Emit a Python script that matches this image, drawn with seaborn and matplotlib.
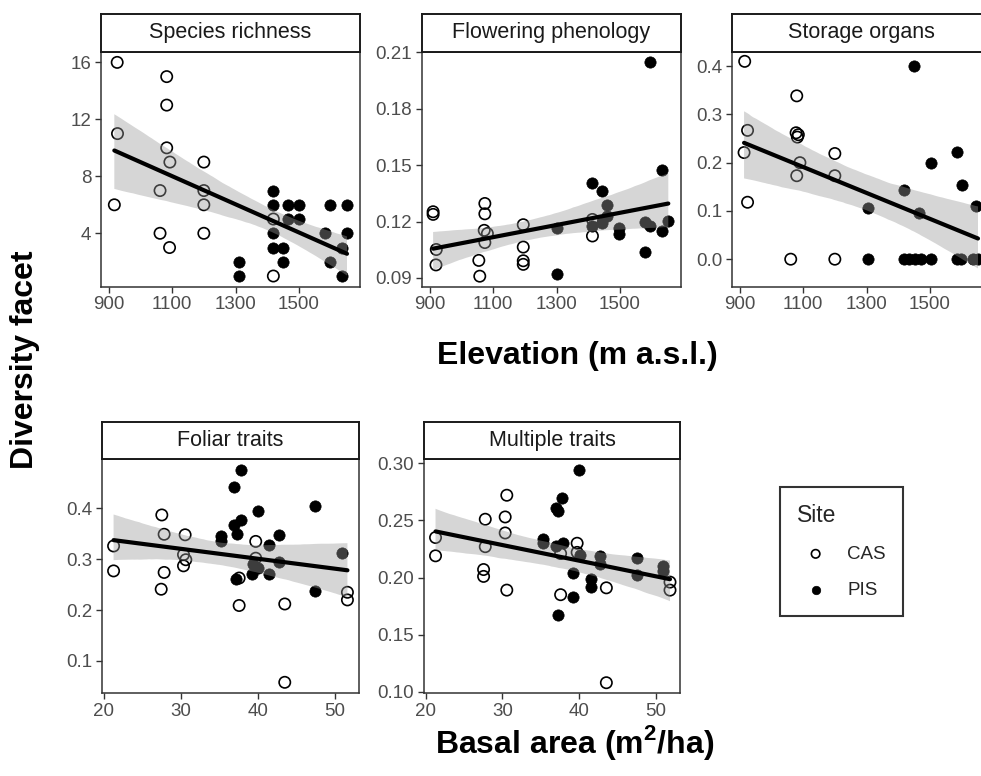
import matplotlib
matplotlib.use('Agg')
import matplotlib.pyplot as plt
import seaborn as sns
import pandas as pd

# values
rich_cas_elev = [927, 1083, 1083, 928, 1083, 1093, 1200, 1062, 1200, 918, 1200, 1062, 1200, 1092, 1419, 1419]
rich_cas_val = [16, 15, 13, 11, 10, 9, 9, 7, 7, 6, 6, 4, 4, 3, 1, 5]
rich_pis_elev = [1310, 1310, 1417, 1417, 1464, 1500, 1597, 1651, 1464, 1500, 1417, 1417, 1448, 1448, 1581, 1651, 1636, 1597, 1636]
rich_pis_val = [2, 1, 7, 6, 6, 6, 6, 6, 5, 5, 4, 3, 3, 2, 4, 4, 3, 2, 1]

flow_cas_elev = [911, 911, 921, 920, 1074, 1074, 1072, 1082, 1074, 1055, 1058, 1195, 1195, 1195, 1195, 1413, 1413]
flow_cas_val = [0.1252, 0.1238, 0.1051, 0.0969, 0.1296, 0.1241, 0.1153, 0.1136, 0.1088, 0.0993, 0.0909, 0.1183, 0.1064, 0.0991, 0.0972, 0.1123, 0.1211]
flow_pis_elev = [1593, 1633, 1413, 1444, 1460, 1460, 1444, 1413, 1300, 1300, 1497, 1497, 1579, 1593, 1579, 1633, 1652]
flow_pis_val = [0.2047, 0.1472, 0.1405, 0.1361, 0.1287, 0.1229, 0.1193, 0.1176, 0.1167, 0.0919, 0.1168, 0.1132, 0.1196, 0.1176, 0.1039, 0.115, 0.1203]

stor_cas_elev = [916, 925, 914, 925, 1080, 1078, 1085, 1082, 1090, 1080, 1200, 1200, 1061, 1200]
stor_cas_val = [0.41, 0.267, 0.221, 0.118, 0.3385, 0.262, 0.258, 0.253, 0.2, 0.173, 0.219, 0.173, 0.0, 0.0]
stor_pis_elev = [1448, 1585, 1503, 1600, 1417, 1645, 1306, 1466, 1306, 1417, 1435, 1451, 1470, 1503, 1585, 1598, 1635, 1651]
stor_pis_val = [0.40, 0.222, 0.20, 0.154, 0.143, 0.111, 0.106, 0.096, 0, 0, 0, 0, 0, 0, 0, 0, 0, 0]

fol_cas_ba = [21.3, 21.3, 27.55, 27.85, 27.85, 27.47, 30.57, 30.36, 30.66, 30.36, 39.72, 39.72, 37.57, 37.57, 43.48, 43.48, 51.6, 51.6]
fol_cas_val = [0.326, 0.277, 0.387, 0.349, 0.274, 0.241, 0.348, 0.309, 0.299, 0.287, 0.335, 0.302, 0.263, 0.209, 0.212, 0.058, 0.235, 0.22]
fol_pis_ba = [37.83, 36.96, 47.45, 39.98, 37.83, 36.96, 37.26, 35.23, 35.23, 42.7, 41.5, 39.4, 40.07, 42.7, 39.2, 41.5, 37.1, 47.45, 50.95]
fol_pis_val = [0.476, 0.442, 0.405, 0.394, 0.377, 0.367, 0.349, 0.345, 0.335, 0.347, 0.327, 0.29, 0.283, 0.294, 0.271, 0.271, 0.261, 0.237, 0.313]

mult_cas_ba = [21.3, 21.3, 27.77, 27.77, 27.55, 27.55, 30.57, 30.36, 30.36, 30.57, 37.57, 37.57, 39.72, 39.72, 43.52, 43.52, 51.8, 51.8]
mult_cas_val = [0.235, 0.219, 0.251, 0.227, 0.207, 0.201, 0.272, 0.253, 0.239, 0.189, 0.185, 0.221, 0.230, 0.222, 0.191, 0.108, 0.196, 0.189]
mult_pis_ba = [39.98, 37.78, 36.92, 37.26, 35.23, 35.23, 36.96, 37.83, 40.07, 42.75, 42.75, 39.2, 41.5, 41.5, 39.2, 37.26, 47.5, 47.5, 50.95, 50.95]
mult_pis_val = [0.294, 0.270, 0.261, 0.258, 0.234, 0.230, 0.228, 0.230, 0.220, 0.219, 0.212, 0.204, 0.199, 0.192, 0.183, 0.167, 0.217, 0.202, 0.210, 0.206]

facets = ['Species richness', 'Flowering phenology', 'Storage organs', 'Foliar traits', 'Multiple traits']
elev_ticks = [900, 1100, 1300, 1500]
ba_ticks = [20, 30, 40, 50]


def make_df(cx, cy, px, py):
    return pd.DataFrame({
        'x': cx + px,
        'y': cy + py,
        'Site': ['CAS'] * len(cx) + ['PIS'] * len(px),
    })


panels = [
    (make_df(rich_cas_elev, rich_cas_val, rich_pis_elev, rich_pis_val), [4, 8, 12, 16], '%d', (0.25, 16.75)),
    (make_df(flow_cas_elev, flow_cas_val, flow_pis_elev, flow_pis_val), [0.09, 0.12, 0.15, 0.18, 0.21], '%.2f', (0.0853, 0.2104)),
    (make_df(stor_cas_elev, stor_cas_val, stor_pis_elev, stor_pis_val), [0.0, 0.1, 0.2, 0.3, 0.4], '%.1f', (-0.057, 0.430)),
    (make_df(fol_cas_ba, fol_cas_val, fol_pis_ba, fol_pis_val), [0.1, 0.2, 0.3, 0.4], '%.1f', (0.037, 0.497)),
    (make_df(mult_cas_ba, mult_cas_val, mult_pis_ba, mult_pis_val), [0.10, 0.15, 0.20, 0.25, 0.30], '%.2f', (0.099, 0.3037)),
]

sns.set_theme(style='white')
plt.rcParams['font.family'] = ['Liberation Sans', 'DejaVu Sans']
plt.rcParams['mathtext.fontset'] = 'custom'
plt.rcParams['mathtext.rm'] = 'Liberation Sans'
plt.rcParams['mathtext.bf'] = 'Liberation Sans:bold'

W, H = 981, 776
fig = plt.figure(figsize=(W / 100, H / 100), dpi=100)

# pixel boxes: left, top, right, bottom of each plotting panel
boxes = [
    (101, 51.7, 360, 286.7),
    (422, 51.7, 681, 286.7),
    (732, 51.7, 991, 286.7),
    (102, 459, 359, 693),
    (424, 459, 680, 693),
]
strip_h = 37.5
border = '#333333'

for i, ((df, yt, fmt, ylim), (l, t, r, b)) in enumerate(zip(panels, boxes)):
    ax = fig.add_axes([l / W, 1 - b / H, (r - l) / W, (b - t) / H])
    cas = df[df['Site'] == 'CAS']
    pis = df[df['Site'] == 'PIS']
    sns.scatterplot(data=cas, x='x', y='y', ax=ax, s=66, facecolor='none',
                    edgecolor='black', linewidth=1.2, label='CAS', zorder=2)
    sns.scatterplot(data=pis, x='x', y='y', ax=ax, s=66, color='black',
                    edgecolor='black', linewidth=0.5, label='PIS', zorder=2)
    sns.regplot(data=df, x='x', y='y', ax=ax, scatter=False, color='black',
                ci=95, n_boot=2000, seed=1, line_kws={'linewidth': 3.0, 'zorder': 4})
    # restyle the confidence band like a grey ribbon drawn over the points
    ribbon = ax.collections[-1]
    ribbon.set_alpha(0.4)
    ribbon.set_facecolor('#999999')
    ribbon.set_edgecolor('none')
    ribbon.set_zorder(3)
    if i == 0:
        handles, labels = ax.get_legend_handles_labels()
    if ax.get_legend() is not None:
        ax.get_legend().remove()

    if i < 3:
        ax.set_xlim(876, 1692)
        ax.set_xticks(elev_ticks)
    else:
        ax.set_xlim(19.8, 53.1)
        ax.set_xticks(ba_ticks)
    ax.set_ylim(*ylim)
    ax.set_yticks(yt)
    ax.set_yticklabels([fmt % v for v in yt])
    ax.set_xlabel('')
    ax.set_ylabel('')
    ax.tick_params(axis='both', which='both', length=4.5, width=1.0, color=border,
                   labelcolor='#4D4D4D', labelsize=13.5, pad=2.5,
                   bottom=True, left=True)
    for sp in ax.spines.values():
        sp.set_color(border)
        sp.set_linewidth(1.1)

    sax = fig.add_axes([l / W, 1 - t / H, (r - l) / W, strip_h / H])
    sax.set_xticks([])
    sax.set_yticks([])
    sax.set_facecolor('white')
    for sp in sax.spines.values():
        sp.set_color('#1a1a1a')
        sp.set_linewidth(1.4)
    sax.text(0.5, 0.5, facets[i], ha='center', va='center', fontsize=15.5,
             color='#1a1a1a', transform=sax.transAxes)

fig.text(577 / W, 1 - 356 / H, 'Elevation (m a.s.l.)', ha='center', va='center',
         fontsize=23, fontweight='bold', color='black')
fig.text(575 / W, 1 - 742 / H, r'Basal area (m$^{\mathbf{2}}$/ha)', ha='center', va='center',
         fontsize=23, fontweight='bold', color='black')
fig.text(25 / W, 1 - 360 / H, 'Diversity facet', ha='center', va='center', rotation=90,
         fontsize=23, fontweight='bold', color='black')

leg = fig.legend(handles, labels, title='Site', loc='upper left',
                 bbox_to_anchor=(780 / W, 1 - 487 / H), borderaxespad=0,
                 frameon=True, fontsize=13.5, title_fontsize=16.5, markerscale=0.75,
                 borderpad=0.9, labelspacing=1.0, handletextpad=0.7,
                 fancybox=False, alignment='left')
leg.get_frame().set_edgecolor('black')
leg.get_frame().set_linewidth(1.5)

fig.savefig('out.png', dpi=100)
